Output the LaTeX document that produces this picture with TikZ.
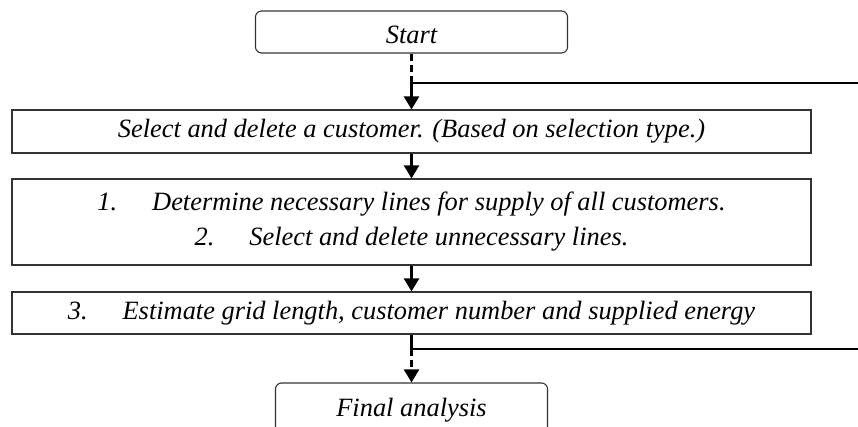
\documentclass[tikz,border=0pt]{standalone}
\usepackage{fontspec}
\setmainfont{Liberation Serif}
\usetikzlibrary{arrows.meta}
\tikzset{
  box/.style={draw=black!80, line width=1.1pt, rectangle, minimum width=799pt, inner sep=0pt, align=center,
    font=\fontsize{26.4pt}{35pt}\selectfont\itshape},
  term/.style={draw=black!80, line width=1.1pt, rectangle, rounded corners=6pt, inner sep=0pt},
  lbl/.style={inner sep=0pt, font=\fontsize{26.4pt}{35pt}\selectfont\itshape},
  conn/.style={line width=2.2pt, black},
  arr/.style={-{Triangle[width=15pt,length=13pt]}},
  dsh/.style={dash pattern=on 7pt off 4pt},
}
\begin{document}
\begin{tikzpicture}[x=1pt,y=-1pt]
\path[use as bounding box] (0,0) rectangle (858,427);
\clip (0,0) rectangle (858,427);
% terminals
\node[term, minimum width=312pt, minimum height=42pt] (start) at (411.5,32) {};
\node[lbl] (starttxt) at (411.5,35) {Start};
\node[term, minimum width=272pt, minimum height=62pt] (final) at (411.5,414) {};
\node[lbl] (finaltxt) at (411.5,410) {Final analysis};
% process boxes
\node[box, minimum height=43pt] (b1) at (411.5,131.5) {Select and delete a customer. (Based on selection type.)};
\node[box, minimum height=86pt] (b2) at (411.5,222) {1.\hspace{35pt}Determine necessary lines for supply of all customers.\\2.\hspace{35pt}Select and delete unnecessary lines.};
\node[box, minimum height=42pt] (b3) at (411.5,313) {3.\hspace{35pt}Estimate grid length, customer number and supplied energy};
% junctions
\coordinate (j1) at (411.5,83);
\coordinate (e1) at (858,83);
\coordinate (j2) at (411.5,349);
\coordinate (e2) at (858,349);
% connectors
\draw[conn,dsh] (start.south) -- (j1);
\draw[conn,arr] (j1) -- (b1.north);
\draw[conn] (j1) -- (e1);
\draw[conn,arr] (b1.south) -- (b2.north);
\draw[conn,arr] (b2.south) -- (b3.north);
\draw[conn] (b3.south) -- (j2);
\draw[conn] (j2) -- (e2);
\draw[conn,dsh,arr] (j2) -- (final.north);
\end{tikzpicture}
\end{document}
